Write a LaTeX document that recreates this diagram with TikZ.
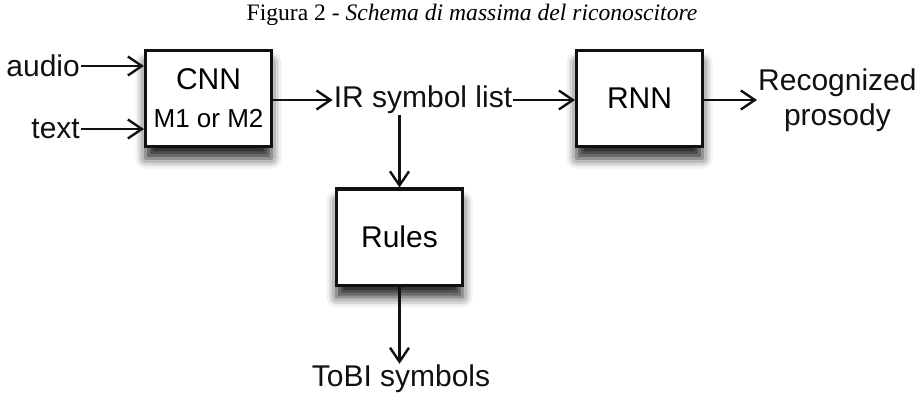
\documentclass[tikz,border=0pt]{standalone}
\usepackage{fontspec}
\setmainfont{Liberation Sans}
\newfontfamily\capfont{Liberation Serif}
\usepackage{tikz}
\usetikzlibrary{arrows.meta,shadows.blur}
\definecolor{ink}{HTML}{111111}
\tikzset{
  block/.style={draw=ink, line width=3pt, fill=white, minimum width=126pt,
    minimum height=96pt, align=center,
    blur shadow={shadow xshift=0pt, shadow yshift=-12pt, shadow blur radius=10pt, shadow opacity=85}},
  lab/.style={inner sep=1pt, align=center, text=ink},
  arr/.style={draw=ink, line width=2.4pt, -{Straight Barb[length=14pt,width=19pt,line width=2.4pt]}},
  every node/.style={font=\fontsize{30}{35}\selectfont}
}
\newcommand\subfont{\fontsize{26}{30}\selectfont}

\begin{document}
\begin{tikzpicture}[x=1pt,y=-1pt]
  \useasboundingbox (0,0) rectangle (924,393);

  \node[font=\capfont\fontsize{23.6}{28}\selectfont] (cap) at (472,15)
    {Figura 2 - \textit{Schema di massima del riconoscitore}};

  % blocks
  \node[block] (cnn) at (208.5,98.5) {CNN\\[3pt]{\subfont M1 or M2}};
  \node[block] (rnn) at (639.5,98.5) {RNN};
  \node[block] (rules) at (399.5,237) {Rules};

  % labels
  \node[lab,anchor=east] (audio) at (81,66) {audio};
  \node[lab,anchor=east] (txt) at (81,129) {text};
  \node[lab] (ir) at (423,100) {IR symbol list};
  \node[lab,anchor=west] (reco) at (757,100) {Recognized\\prosody};
  \node[lab] (tobi) at (401,379) {ToBI symbols};

  % connections
  \draw[arr] (audio.east) -- (audio.east -| cnn.west);
  \draw[arr] (txt.east) -- (txt.east -| cnn.west);
  \draw[arr] (cnn.east |- ir.west) -- (ir.west);
  \draw[arr] (ir.east) -- (ir.east -| rnn.west);
  \draw[arr] (rnn.east |- reco.west) -- (reco.west);
  \draw[arr] (ir.south -| rules.north) -- (rules.north);
  \draw[arr] (rules.south) -- (rules.south |- tobi.north);
\end{tikzpicture}
\end{document}
